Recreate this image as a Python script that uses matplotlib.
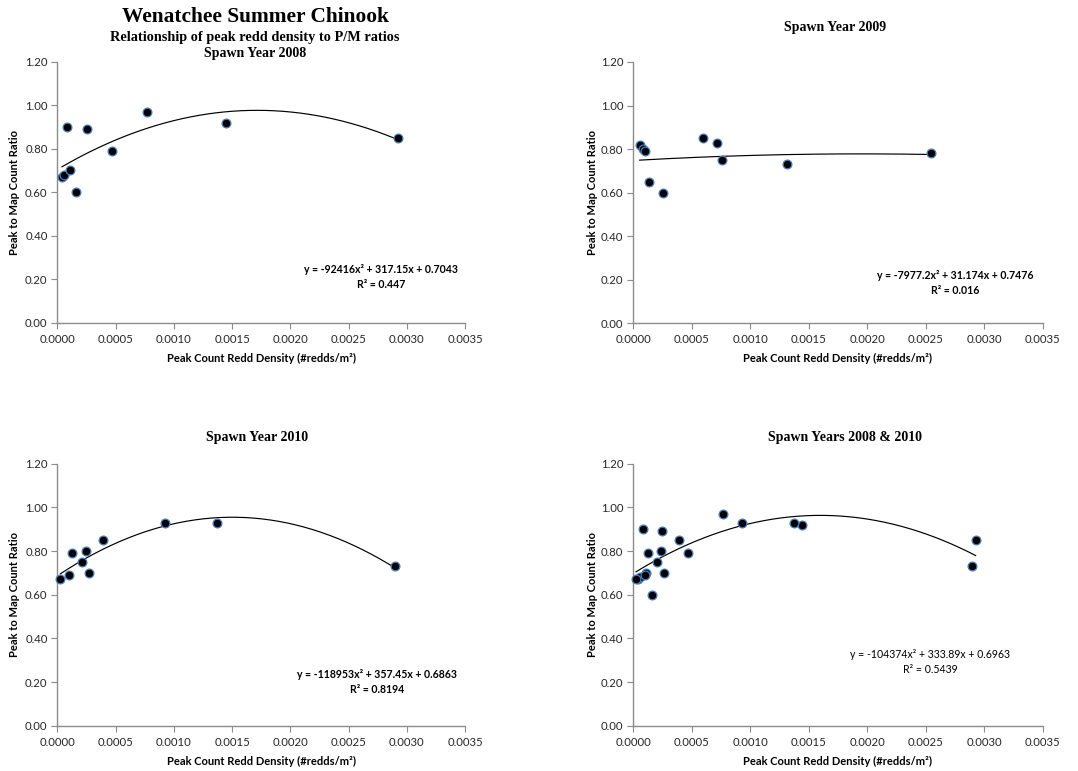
import numpy as np
import matplotlib
matplotlib.use("Agg")
import matplotlib.pyplot as plt

# ---------------- data ----------------
x_2008 = [0.00004, 0.000058, 0.000086, 0.000112, 0.000163, 0.000252, 0.000467, 0.000767, 0.001445, 0.002927]
y_2008 = [0.67, 0.68, 0.90, 0.70, 0.60, 0.89, 0.79, 0.97, 0.92, 0.85]

x_2009 = [0.000057, 0.000088, 0.000105, 0.000139, 0.000256, 0.000598, 0.000718, 0.000758, 0.001316, 0.002546]
y_2009 = [0.82, 0.80, 0.79, 0.65, 0.60, 0.85, 0.83, 0.75, 0.73, 0.78]

x_2010 = [0.000026, 0.000103, 0.000126, 0.000209, 0.000243, 0.000269, 0.000395, 0.000927, 0.001373, 0.002896]
y_2010 = [0.67, 0.69, 0.79, 0.75, 0.80, 0.70, 0.85, 0.93, 0.93, 0.73]

# combined 2008 & 2010
x_comb = x_2008 + x_2010
y_comb = y_2008 + y_2010

# trendline coefficients (a, b, c) for y = a x^2 + b x + c, and R^2
coef_2008 = [-92416, 317.15, 0.7043]
coef_2009 = [-7977.2, 31.174, 0.7476]
coef_2010 = [-118953, 357.45, 0.6863]
coef_comb = [-104374, 333.89, 0.6963]
r2_labels = ["0.447", "0.016", "0.8194", "0.5439"]
eq_labels = ["y = -92416x\u00b2 + 317.15x + 0.7043",
             "y = -7977.2x\u00b2 + 31.174x + 0.7476",
             "y = -118953x\u00b2 + 357.45x + 0.6863",
             "y = -104374x\u00b2 + 333.89x + 0.6963"]
titles = ["Spawn Year 2008", "Spawn Year 2009", "Spawn Year 2010", "Spawn Years 2008 & 2010"]

x_ticks = [0.0, 0.0005, 0.0010, 0.0015, 0.0020, 0.0025, 0.0030, 0.0035]
y_ticks = [0.0, 0.2, 0.4, 0.6, 0.8, 1.0, 1.2]

# ---------------- figure ----------------
W, H = 1078, 771
fig = plt.figure(figsize=(W / 100, H / 100), dpi=100)
fig.patch.set_facecolor("white")

TICKFONT = "Lato"
SERIF = "Liberation Serif"

def fx(px):
    return px / W

def fy(py):
    return 1 - py / H

# axes rectangles in pixels: left, right, top, bottom
rects = [(57.3, 465.0, 61.7, 322.7),
         (633.0, 1042.7, 62.0, 323.3),
         (57.3, 465.0, 463.7, 725.7),
         (633.0, 1042.7, 463.7, 725.7)]

datasets = [(x_2008, y_2008, coef_2008),
            (x_2009, y_2009, coef_2009),
            (x_2010, y_2010, coef_2010),
            (x_comb, y_comb, coef_comb)]

eq_pos = [(381, 269.3, 284.0), (955, 275.7, 290.0), (377, 674.0, 689.3), (930.5, 654.3, 669.3)]
eq_bold = [True, True, True, False]
title_pos = [None, (835, 28), (257, 438), (845, 437)]
ylabel_x = [15, 592, 15, 592]
xlabel_y = [358, 358, 761.7, 761.7]

spine_col = "#8c8c8c"

for i, ((l, r, t, b), (xs, ys, cf)) in enumerate(zip(rects, datasets)):
    ax = fig.add_axes([fx(l), fy(b), fx(r - l), (b - t) / H])
    ax.set_xlim(0, 0.0035)
    ax.set_ylim(0, 1.2)
    ax.set_xticks(x_ticks)
    ax.set_yticks(y_ticks)
    ax.set_xticklabels([f"{v:.4f}" for v in x_ticks])
    ax.set_yticklabels([f"{v:.2f}" for v in y_ticks])
    for s in ["top", "right"]:
        ax.spines[s].set_visible(False)
    for s in ["left", "bottom"]:
        ax.spines[s].set_color(spine_col)
        ax.spines[s].set_linewidth(1.0)
    ax.tick_params(axis="both", direction="out", length=4, width=0.8, color=spine_col,
                   labelsize=8.2, labelcolor="#262626")
    for lab in ax.get_xticklabels() + ax.get_yticklabels():
        lab.set_fontfamily(TICKFONT)
    ax.tick_params(axis="x", pad=4)
    ax.tick_params(axis="y", pad=3)

    # trendline
    xx = np.linspace(min(xs), max(xs), 200)
    yy = cf[0] * xx ** 2 + cf[1] * xx + cf[2]
    ax.plot(xx, yy, color="black", lw=0.85, zorder=2)
    # points
    ax.plot(xs, ys, "o", ms=6.3, mfc="black", mec="#4A7EBB", mew=0.9, zorder=3, clip_on=False)

    # equation text
    ex, ey1, ey2 = eq_pos[i]
    fw = "bold" if eq_bold[i] else "normal"
    fig.text(fx(ex), fy(ey1), eq_labels[i], ha="center", va="center", fontsize=7.6,
             fontweight=fw, family=TICKFONT, color="black")
    fig.text(fx(ex), fy(ey2), "R\u00b2 = " + r2_labels[i], ha="center", va="center", fontsize=7.6,
             fontweight=fw, family=TICKFONT, color="black")

    # axis labels
    fig.text(fx(ylabel_x[i]), fy((t + b) / 2), "Peak to Map Count Ratio", rotation=90,
             ha="center", va="center", fontsize=8, fontweight="bold", family=TICKFONT)
    fig.text(fx((l + r) / 2), fy(xlabel_y[i]), "Peak Count Redd Density (#redds/m\u00b2)",
             ha="center", va="center", fontsize=8, fontweight="bold", family=TICKFONT)

    if title_pos[i] is not None:
        tx, ty = title_pos[i]
        fig.text(fx(tx), fy(ty), titles[i], ha="center", va="center", fontsize=10,
                 fontweight="bold", family=SERIF)

# main titles for first panel
fig.text(fx(255), fy(17), "Wenatchee Summer Chinook", ha="center", va="center",
         fontsize=15.4, fontweight="bold", family=SERIF)
fig.text(fx(255), fy(38), "Relationship of peak redd density to P/M ratios", ha="center",
         va="center", fontsize=10.3, fontweight="bold", family=SERIF)
fig.text(fx(255), fy(54), titles[0], ha="center", va="center", fontsize=10,
         fontweight="bold", family=SERIF)

fig.savefig("out.png", dpi=100, facecolor="white")
